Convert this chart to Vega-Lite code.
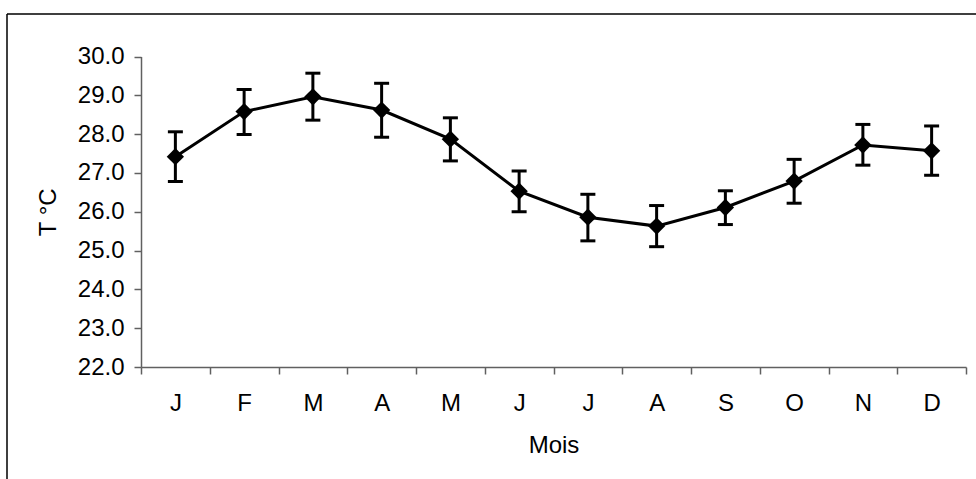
{
  "$schema": "https://vega.github.io/schema/vega-lite/v6.json",
  "autosize": {"type": "none"},
  "padding": {"left": 7, "top": 14, "right": 0, "bottom": 0},
  "width": 969,
  "height": 465,
  "background": "white",
  "config": {
    "view": {"stroke": "black", "strokeWidth": 1.5, "strokeDash": [969, 1434, 465, 0]},
    "font": "Liberation Sans",
    "axis": {
      "grid": false,
      "domainColor": "#606060",
      "domainWidth": 1.5,
      "tickColor": "#606060",
      "tickWidth": 1.5,
      "tickSize": 7,
      "labelFont": "Liberation Sans",
      "labelFontSize": 24,
      "labelColor": "black",
      "titleFont": "Liberation Sans",
      "titleFontSize": 24,
      "titleFontWeight": "normal",
      "titleColor": "black"
    }
  },
  "data": {
    "values": [
      {"mois": "janv", "t": 27.42, "bas": 26.78, "haut": 28.06},
      {"mois": "févr", "t": 28.58, "bas": 27.99, "haut": 29.15},
      {"mois": "mars", "t": 28.96, "bas": 28.36, "haut": 29.57},
      {"mois": "avr", "t": 28.62, "bas": 27.92, "haut": 29.31},
      {"mois": "mai", "t": 27.87, "bas": 27.31, "haut": 28.42},
      {"mois": "juin", "t": 26.53, "bas": 26.0, "haut": 27.05},
      {"mois": "juil", "t": 25.86, "bas": 25.25, "haut": 26.45},
      {"mois": "août", "t": 25.63, "bas": 25.1, "haut": 26.16},
      {"mois": "sept", "t": 26.11, "bas": 25.67, "haut": 26.54},
      {"mois": "oct", "t": 26.79, "bas": 26.22, "haut": 27.35},
      {"mois": "nov", "t": 27.72, "bas": 27.2, "haut": 28.25},
      {"mois": "déc", "t": 27.57, "bas": 26.94, "haut": 28.21}
    ]
  },
  "encoding": {
    "x": {
      "field": "mois",
      "type": "ordinal",
      "sort": null,
      "title": "Mois",
      "scale": {"type": "band", "range": [134, 959], "paddingInner": 0, "paddingOuter": 0},
      "axis": {
        "offset": -112,
        "tickBand": "extent",
        "labelAngle": 0,
        "labelPadding": 17,
        "titlePadding": 18,
        "labelExpr": "upper(substring(datum.label, 0, 1))"
      }
    }
  },
  "layer": [
    {
      "mark": {"type": "rule", "color": "black", "strokeWidth": 3},
      "encoding": {
        "y": {
          "field": "bas",
          "type": "quantitative",
          "title": "T °C",
          "scale": {"domain": [22, 30], "range": [353, 42.5], "nice": false, "zero": false},
          "axis": {
            "offset": -134,
            "values": [22, 23, 24, 25, 26, 27, 28, 29, 30],
            "format": ".1f",
            "labelPadding": 10,
            "titlePadding": 17
          }
        },
        "y2": {"field": "haut"}
      }
    },
    {
      "mark": {"type": "tick", "color": "black", "size": 15, "thickness": 3, "opacity": 1},
      "encoding": {"y": {"field": "bas", "type": "quantitative", "title": "T °C"}}
    },
    {
      "mark": {"type": "tick", "color": "black", "size": 15, "thickness": 3, "opacity": 1},
      "encoding": {"y": {"field": "haut", "type": "quantitative", "title": "T °C"}}
    },
    {
      "mark": {"type": "line", "color": "black", "strokeWidth": 3},
      "encoding": {"y": {"field": "t", "type": "quantitative", "title": "T °C"}}
    },
    {
      "mark": {"type": "point", "shape": "diamond", "filled": true, "size": 300, "color": "black", "opacity": 1},
      "encoding": {"y": {"field": "t", "type": "quantitative", "title": "T °C"}}
    }
  ]
}
